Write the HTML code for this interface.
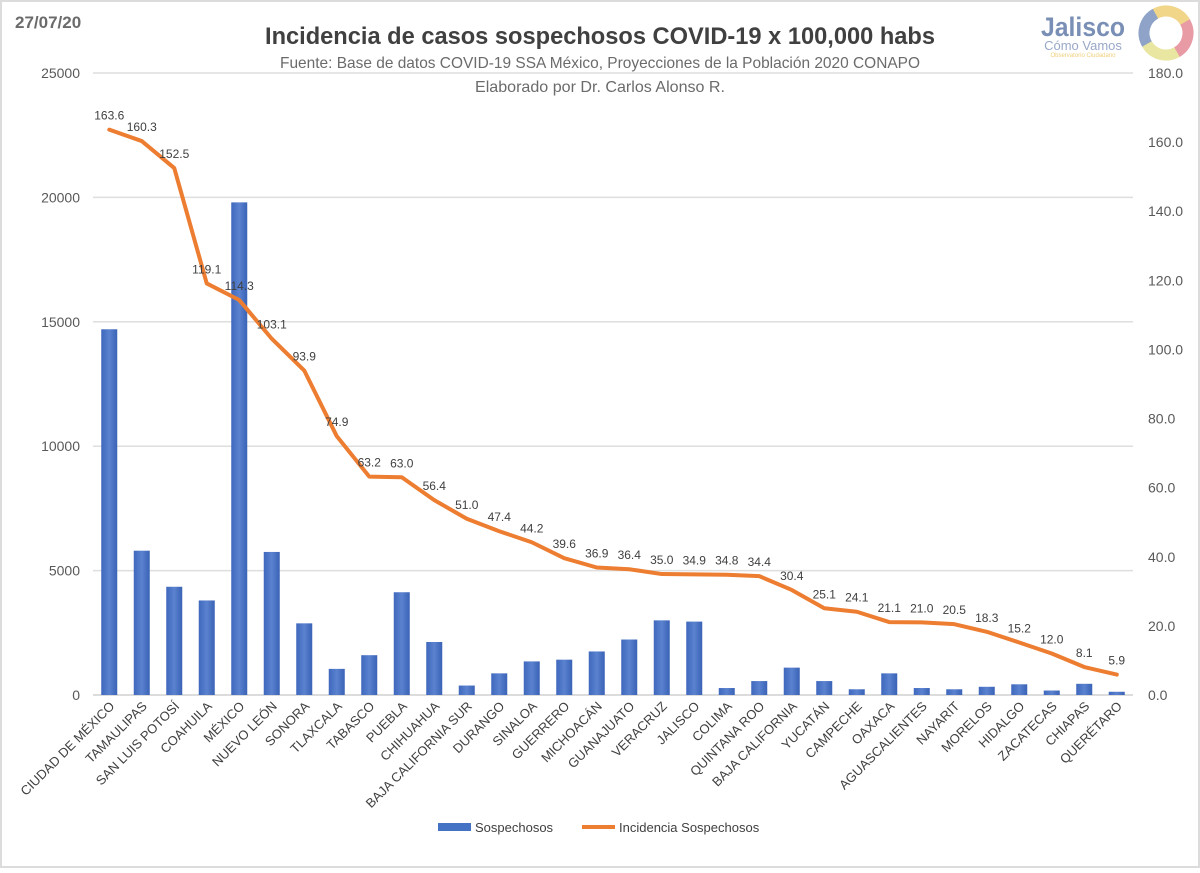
<!DOCTYPE html>
<html><head><meta charset="utf-8"><style>
html,body{margin:0;padding:0;background:#fff}
body{width:1200px;height:868px;overflow:hidden;font-family:"Liberation Sans",sans-serif}
</style></head><body>
<svg id="chart" width="1200" height="868" xmlns="http://www.w3.org/2000/svg">
<defs>
<linearGradient id="barg" x1="0" y1="0" x2="1" y2="0">
<stop offset="0" stop-color="#3f68bd"/><stop offset="0.5" stop-color="#5a82cf"/><stop offset="1" stop-color="#3a62b6"/>
</linearGradient>
</defs>
<rect x="1" y="1" width="1198" height="866" fill="#fff" stroke="#dcdcdc" stroke-width="2"/>
<text x="15" y="28" font-size="17" font-weight="bold" fill="#6b6b6b">27/07/20</text>
<text x="600" y="44" text-anchor="middle" font-size="24" font-weight="bold" fill="#404040" textLength="670" lengthAdjust="spacingAndGlyphs">Incidencia de casos sospechosos COVID-19 x 100,000 habs</text>
<text x="600" y="68" text-anchor="middle" font-size="16" fill="#6b6b6b" textLength="640" lengthAdjust="spacingAndGlyphs">Fuente: Base de datos COVID-19 SSA México, Proyecciones de la Población 2020 CONAPO</text>
<text x="600" y="92" text-anchor="middle" font-size="16" fill="#6b6b6b" textLength="250" lengthAdjust="spacingAndGlyphs">Elaborado por Dr. Carlos Alonso R.</text>
<g>
<text x="1083" y="36" text-anchor="middle" font-size="27" font-weight="bold" fill="#7a8fb5" textLength="84" lengthAdjust="spacingAndGlyphs">Jalisco</text>
<text x="1083" y="50" text-anchor="middle" font-size="13" fill="#9aa8c8">Cómo Vamos</text>
<text x="1083" y="57" text-anchor="middle" font-size="6" fill="#f1cf7a">Observatorio Ciudadano</text>
<circle cx="1166" cy="33" r="22" fill="none" stroke="#f1d68a" stroke-width="11" stroke-dasharray="35 200" transform="rotate(-120 1166 33)"/>
<circle cx="1166" cy="33" r="22" fill="none" stroke="#e89aa5" stroke-width="11" stroke-dasharray="35 200" transform="rotate(-30 1166 33)"/>
<circle cx="1166" cy="33" r="22" fill="none" stroke="#e8e6a0" stroke-width="11" stroke-dasharray="35 200" transform="rotate(60 1166 33)"/>
<circle cx="1166" cy="33" r="22" fill="none" stroke="#8ea3c7" stroke-width="11" stroke-dasharray="35 200" transform="rotate(150 1166 33)"/>
</g>
<g id="grid"></g><g id="bars"></g><g id="line"></g><g id="axes"></g>
<g>
<rect x="438" y="823" width="33" height="8" fill="#4472c4"/>
<text x="475" y="832" font-size="13" fill="#404040">Sospechosos</text>
<line x1="582" y1="827" x2="615" y2="827" stroke="#ed7d31" stroke-width="4"/>
<text x="619" y="832" font-size="13" fill="#404040">Incidencia Sospechosos</text>
</g>
</svg>
<script>
const categories=["CIUDAD DE MÉXICO","TAMAULIPAS","SAN LUIS POTOSÍ","COAHUILA","MÉXICO","NUEVO LEÓN","SONORA","TLAXCALA","TABASCO","PUEBLA","CHIHUAHUA","BAJA CALIFORNIA SUR","DURANGO","SINALOA","GUERRERO","MICHOACÁN","GUANAJUATO","VERACRUZ","JALISCO","COLIMA","QUINTANA ROO","BAJA CALIFORNIA","YUCATÁN","CAMPECHE","OAXACA","AGUASCALIENTES","NAYARIT","MORELOS","HIDALGO","ZACATECAS","CHIAPAS","QUERÉTARO"];
const sospechosos=[14700,5800,4350,3800,19800,5750,2880,1050,1600,4130,2130,380,870,1350,1420,1750,2230,3000,2950,280,560,1100,560,230,870,280,230,330,430,180,450,130];
const incidencia=[163.6,160.3,152.5,119.1,114.3,103.1,93.9,74.9,63.2,63.0,56.4,51.0,47.4,44.2,39.6,36.9,36.4,35.0,34.9,34.8,34.4,30.4,25.1,24.1,21.1,21.0,20.5,18.3,15.2,12.0,8.1,5.9];
const leftTicks=[0,5000,10000,15000,20000,25000];
const rightTicks=[0,20,40,60,80,100,120,140,160,180];
const NS="http://www.w3.org/2000/svg";
const X0=93,X1=1133,Y0=695,Y1=73;
const bw=(X1-X0)/categories.length;
const xc=i=>X0+bw*(i+0.5);
const yL=v=>Y0-(v/25000)*(Y0-Y1);
const yR=v=>Y0-(v/180)*(Y0-Y1);
function mk(tag,attrs,parent){const e=document.createElementNS(NS,tag);for(const k in attrs)e.setAttribute(k,attrs[k]);document.getElementById(parent).appendChild(e);return e;}
leftTicks.forEach(t=>{
  const g=mk("line",{x1:X0,x2:X1,y1:yL(t),y2:yL(t),stroke:t===0?"#d0d0d0":"#dedede","stroke-width":1.5},"grid");
  
  
  const l=mk("text",{x:80,y:yL(t)+5,"text-anchor":"end","font-size":14,fill:"#595959"},"axes");
  l.textContent=t;
  
  
});
rightTicks.forEach(t=>{
  const l=mk("text",{x:1148,y:yR(t)+5,"font-size":14,fill:"#595959"},"axes");
  l.textContent=t.toFixed(1);
  
  
});
sospechosos.forEach((v,i)=>{
  const r=mk("rect",{x:xc(i)-8,y:yL(v),width:16,height:Y0-yL(v),fill:"url(#barg)"},"bars");
  
  
});
categories.forEach((c,i)=>{
  const t=mk("text",{x:0,y:0,"text-anchor":"end","font-size":13,fill:"#404040",transform:`translate(${xc(i)+6},${Y0+12}) rotate(-45)`},"axes");
  t.textContent=c;
  
  
});
const pts=incidencia.map((v,i)=>xc(i)+","+yR(v)).join(" ");
const pl=mk("polyline",{points:pts,fill:"none",stroke:"#ed7d31","stroke-width":4,"stroke-linejoin":"round","stroke-linecap":"round"},"line");


incidencia.forEach((v,i)=>{
  const t=mk("text",{x:xc(i),y:yR(v)-10,"text-anchor":"middle","font-size":12,fill:"#404040"},"line");
  t.textContent=v.toFixed(1);
  
  
});
</script>
</body></html>
